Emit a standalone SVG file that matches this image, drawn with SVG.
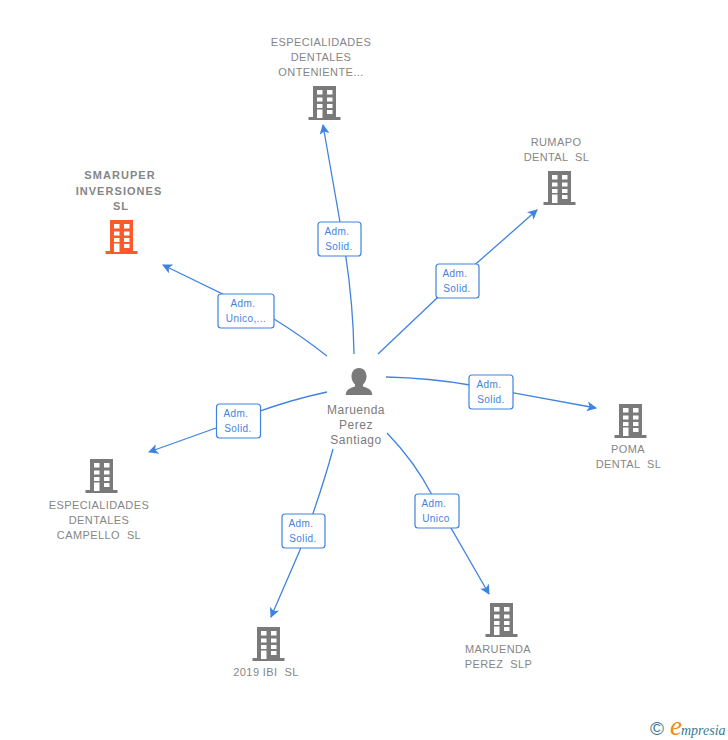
<svg xmlns="http://www.w3.org/2000/svg" width="728" height="740" viewBox="0 0 728 740">
<style>
text{font-family:"Liberation Sans",Arial,sans-serif}
.n{font-size:11px;fill:#868686;text-anchor:middle;letter-spacing:.4px}
.b{font-weight:bold;font-size:11px;letter-spacing:1.05px}
.p{font-size:12px;fill:#7c7c7c;text-anchor:middle;letter-spacing:.5px}
.e{fill:none;stroke:#3f83e0;stroke-width:1.3;marker-end:url(#a)}
.l rect{fill:#fff;stroke:#3f83e0;stroke-width:1.2}
.l text{font-size:10px;fill:#3f83e0;text-anchor:middle;letter-spacing:.4px}
</style>
<defs>
<marker id="a" markerUnits="userSpaceOnUse" markerWidth="12" markerHeight="12" refX="9" refY="5" orient="auto"><path d="M0 0L10 5L0 10L2.5 5Z" fill="#3f83e0"/></marker>
<path id="bld" fill-rule="evenodd" d="M0 0H23V31H27.5V34H-4.5V31H0ZM4 4V8.500H9.500V4ZM14 4V8.500H19.500V4ZM4 11.500V15.500H9.500V11.500ZM14 11.500V15.500H19.500V11.500ZM4 18V22H9.500V18ZM14 18V22H19.500V18ZM4 23.500V32H9.500V23.500ZM14 24V28H19.500V24Z"/>
</defs>
<g id="connectors">
<path class="e" d="M354 354Q353 290 340 222L323 125"/>
<path class="e" d="M378 354L436 299L537 210"/>
<path class="e" d="M386 377Q430 378 470 385L596 408"/>
<path class="e" d="M387 433Q415 462 432 495L489 594"/>
<path class="e" d="M333 449Q322 490 300 550L271 617"/>
<path class="e" d="M327 392Q275 403 216 428L149 452"/>
<path class="e" d="M327 356Q300 335 274 319L163 265"/>
<g class="l">
<rect x="318" y="222" width="43" height="34" rx="3"/><text x="337" y="235">Adm.</text><text x="339" y="250">Solid.</text>
<rect x="436" y="264" width="43" height="34" rx="3"/><text x="455" y="277">Adm.</text><text x="457" y="292">Solid.</text>
<rect x="469" y="375" width="44" height="34" rx="3"/><text x="489" y="388">Adm.</text><text x="491" y="403">Solid.</text>
<rect x="415" y="494" width="44" height="34" rx="3"/><text x="434" y="507">Adm.</text><text x="436" y="522">Unico</text>
<rect x="282" y="514" width="43" height="34" rx="3"/><text x="301" y="527">Adm.</text><text x="303" y="542">Solid.</text>
<rect x="216.500" y="404" width="44" height="34" rx="3"/><text x="236" y="417">Adm.</text><text x="238" y="432">Solid.</text>
<rect x="218" y="294" width="56" height="34" rx="3"/><text x="243" y="307">Adm.</text><text x="246" y="322">Unico,...</text>
</g>
</g>
<g id="person">
<path fill="#7a7a7a" d="M359 368C354 368 351.500 372 351.500 376.500C351.500 380 353 382.500 355 384.500V386.500C351 388 346 389 345.700 395H372.300C372 389 367 388 363 386.500V384.500C365 382.500 366.500 380 366.500 376.500C366.500 372 364 368 359 368Z"/>
<text class="p" x="356" y="414">Maruenda</text><text class="p" x="356" y="429">Perez</text><text class="p" x="356" y="444">Santiago</text>
</g>
<g id="smaruper">
<text class="n b" x="120" y="179">SMARUPER</text><text class="n b" x="119" y="195">INVERSIONES</text><text class="n b" x="121" y="210">SL</text>
<use href="#bld" x="110" y="220" fill="#fb5a2c"/>
</g>
<g id="especialidades-onteniente">
<text class="n" x="321" y="46">ESPECIALIDADES</text><text class="n" x="321" y="61">DENTALES</text><text class="n" x="321" y="76">ONTENIENTE...</text>
<use href="#bld" x="313" y="86" fill="#7a7a7a"/>
</g>
<g id="rumapo">
<text class="n" x="556" y="146">RUMAPO</text><text class="n" x="556.500" y="161" xml:space="preserve">DENTAL  SL</text>
<use href="#bld" x="548" y="171" fill="#7a7a7a"/>
</g>
<g id="poma">
<use href="#bld" x="619" y="404" fill="#7a7a7a"/>
<text class="n" x="628" y="453">POMA</text><text class="n" x="628.500" y="468" xml:space="preserve">DENTAL  SL</text>
</g>
<g id="especialidades-campello">
<use href="#bld" x="90" y="459" fill="#7a7a7a"/>
<text class="n" x="99" y="509">ESPECIALIDADES</text><text class="n" x="99" y="524">DENTALES</text><text class="n" x="99" y="539" xml:space="preserve">CAMPELLO  SL</text>
</g>
<g id="ibi">
<use href="#bld" x="257" y="627" fill="#7a7a7a"/>
<text class="n" x="266" y="676" xml:space="preserve">2019 IBI  SL</text>
</g>
<g id="maruenda-slp">
<use href="#bld" x="490" y="603" fill="#7a7a7a"/>
<text class="n" x="498" y="653">MARUENDA</text><text class="n" x="498.500" y="668" xml:space="preserve">PEREZ  SLP</text>
</g>
<g id="logo">
<text x="650" y="735" font-size="19" fill="#3d7a94">©</text>
<text x="670" y="735" font-size="27" fill="#f08a1d" font-style="italic" style="font-family:'Liberation Serif',serif">e</text>
<text x="681" y="735" font-size="14" fill="#3d7a94" font-style="italic" style="font-family:'Liberation Serif',serif">mpresia</text>
</g>
</svg>
